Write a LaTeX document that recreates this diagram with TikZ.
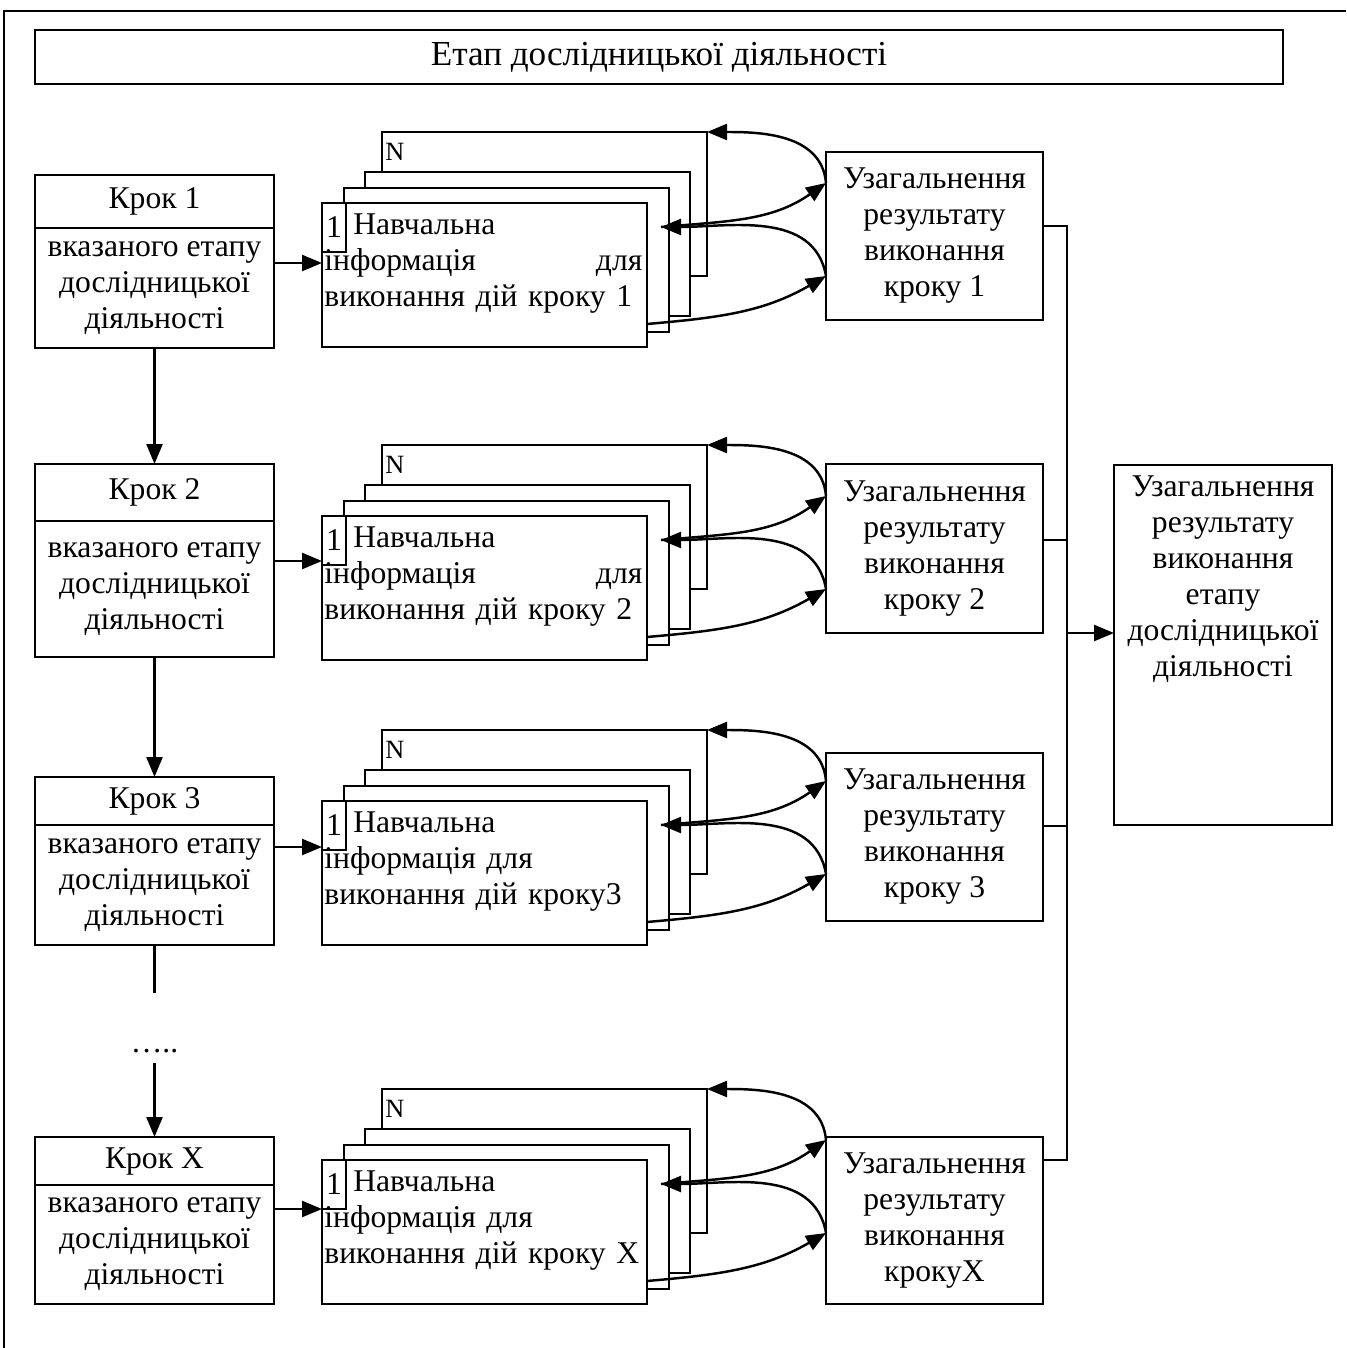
\documentclass[tikz,border=0pt]{standalone}
\usepackage{fontspec}
\setmainfont{Liberation Serif}
\usepackage{tikz}
\usetikzlibrary{arrows.meta,positioning,calc}

\begin{document}
\begin{tikzpicture}[every node/.style={font={\fontsize{18}{20.5}\selectfont}},
    box/.style={draw, line width=1.4pt, fill=white, outer sep=0pt, align=center, inner sep=2pt},
    stepbox/.style={box, minimum width=4.78cm},
    sumbox/.style={box, minimum width=4.34cm},
    page/.style={draw, line width=1.4pt, fill=white, outer sep=0pt, minimum width=6.5cm, minimum height=2.88cm},
    pagetext/.style={anchor=north west, align=left, text width=6.36cm, inner sep=0pt},
    numbox/.style={box, inner sep=0pt, anchor=north west, minimum width=0.48cm, minimum height=0.98cm},
    lastmark/.style={anchor=north west, inner sep=0pt, font={\fontsize{15}{17}\selectfont}},
    link/.style={line width=1.4pt},
    arr/.style={link, -{Triangle[length=4mm,width=3.2mm]}}]
  \useasboundingbox (0,0) rectangle (26.92,-26.96);

  % Frame
  \draw[link] (0.08,-26.96) -- (0.08,-0.22) -- (26.92,-0.22);

  % Title
  \node[box, minimum width=24.96cm, minimum height=1.08cm, font={\fontsize{20}{24}\selectfont}]
        (title) at (13.18,-1.14) {Етап дослідницької діяльності};

  % Steps
  \node[stepbox, minimum height=1.06cm] (s1h) at (3.09,-4.03) {Крок 1};
  \node[stepbox, minimum height=2.40cm, below=0pt of s1h] (s1b) {вказаного етапу\\дослідницької\\діяльності};
  \node[stepbox, minimum height=1.14cm] (s2h) at (3.09,-9.85) {Крок 2};
  \node[stepbox, minimum height=2.72cm, below=0pt of s2h] (s2b) {вказаного етапу\\дослідницької\\діяльності};
  \node[stepbox, minimum height=0.96cm] (s3h) at (3.09,-16.02) {Крок 3};
  \node[stepbox, minimum height=2.40cm, below=0pt of s3h] (s3b) {вказаного етапу\\дослідницької\\діяльності};
  \node[stepbox, minimum height=0.96cm] (sXh) at (3.09,-23.22) {Крок X};
  \node[stepbox, minimum height=2.38cm, below=0pt of sXh] (sXb) {вказаного етапу\\дослідницької\\діяльності};

  \coordinate (g1) at (3.09,-19.86);
  \coordinate (g2) at (3.09,-21.26);
  \draw[arr] (s1b) -- (s2h);
  \draw[arr] (s2b) -- (s3h);
  \draw[link] (s3b) -- (g1);
  \node[anchor=base] (dots) at (3.09,-21.04) {…..};
  \draw[arr] (g2) -- (sXh);

  % Stacks of learning material
  \node[page] (n1) at (10.89,-4.08) {};
  \node[page] (c1) at (10.55,-4.88) {};
  \node[page] (b1) at (10.13,-5.20) {};
  \node[page] (f1) at (9.69,-5.50) {};
  \node[lastmark] (nl1) at ($(n1.north west)+(0.06,-0.22)$) {N};
  \node[numbox] (k1) at (f1.north west) {1};
  \node[pagetext] (t1) at ($(f1.north west)+(0.04,-0.20)$)
        {\hspace*{0.58cm}Навчальна\\інформація \hspace{0pt plus 1filll}для\\виконання дій кроку 1};

  \node[page] (n2) at (10.89,-10.34) {};
  \node[page] (c2) at (10.55,-11.14) {};
  \node[page] (b2) at (10.13,-11.46) {};
  \node[page] (f2) at (9.69,-11.76) {};
  \node[lastmark] (nl2) at ($(n2.north west)+(0.06,-0.22)$) {N};
  \node[numbox] (k2) at (f2.north west) {1};
  \node[pagetext] (t2) at ($(f2.north west)+(0.04,-0.20)$)
        {\hspace*{0.58cm}Навчальна\\інформація \hspace{0pt plus 1filll}для\\виконання дій кроку 2};

  \node[page] (n3) at (10.89,-16.04) {};
  \node[page] (c3) at (10.55,-16.84) {};
  \node[page] (b3) at (10.13,-17.16) {};
  \node[page] (f3) at (9.69,-17.46) {};
  \node[lastmark] (nl3) at ($(n3.north west)+(0.06,-0.22)$) {N};
  \node[numbox] (k3) at (f3.north west) {1};
  \node[pagetext] (t3) at ($(f3.north west)+(0.04,-0.20)$)
        {\hspace*{0.58cm}Навчальна\\інформація для\\виконання дій кроку3};

  \node[page] (nX) at (10.89,-23.22) {};
  \node[page] (cX) at (10.55,-24.02) {};
  \node[page] (bX) at (10.13,-24.34) {};
  \node[page] (fX) at (9.69,-24.64) {};
  \node[lastmark] (nlX) at ($(nX.north west)+(0.06,-0.22)$) {N};
  \node[numbox] (kX) at (fX.north west) {1};
  \node[pagetext] (tX) at ($(fX.north west)+(0.04,-0.20)$)
        {\hspace*{0.58cm}Навчальна\\інформація для\\виконання дій кроку X};

  % Step arrows
  \coordinate (a1) at ($(f1.north west)+(0,-1.20)$);
  \coordinate (a2) at ($(f2.north west)+(0,-0.90)$);
  \coordinate (a3) at ($(f3.north west)+(0,-0.92)$);
  \coordinate (aX) at ($(fX.north west)+(0,-0.98)$);
  \draw[arr] (s1b.east |- a1) -- (a1);
  \draw[arr] (s2b.east |- a2) -- (a2);
  \draw[arr] (s3b.east |- a3) -- (a3);
  \draw[arr] (sXb.east |- aX) -- (aX);

  % Summaries of the steps
  \node[sumbox, minimum height=3.36cm] (u1) at (18.69,-4.72) {Узагальнення\\результату\\виконання\\кроку 1};
  \node[sumbox, minimum height=3.38cm] (u2) at (18.69,-10.97) {Узагальнення\\результату\\виконання\\кроку 2};
  \node[sumbox, minimum height=3.36cm] (u3) at (18.69,-16.74) {Узагальнення\\результату\\виконання\\кроку 3};
  \node[sumbox, minimum height=3.34cm] (uX) at (18.69,-24.41) {Узагальнення\\результату\\виконання\\крокуX};

  % Loops between a stack and its summary
  \coordinate (m1) at ($(f1.north east)+(0.28,-0.48)$);
  \coordinate (p1) at ($(u1.west |- f1.north)+(0,0.40)$);
  \coordinate (q1) at ($(u1.west |- f1.north)+(0,-1.46)$);
  \coordinate (e1) at ($(f1.north east)+(0,-2.42)$);
  \draw[arr] (p1) to[out=95,in=0] (n1.north east);
  \draw[arr] (m1) to[out=5,in=215] (p1);
  \draw[arr] (q1) to[out=100,in=0] (m1);
  \draw[arr] (e1) to[out=5,in=210] (q1);

  \coordinate (m2) at ($(f2.north east)+(0.28,-0.48)$);
  \coordinate (p2) at ($(u2.west |- f2.north)+(0,0.40)$);
  \coordinate (q2) at ($(u2.west |- f2.north)+(0,-1.46)$);
  \coordinate (e2) at ($(f2.north east)+(0,-2.42)$);
  \draw[arr] (p2) to[out=95,in=0] (n2.north east);
  \draw[arr] (m2) to[out=5,in=215] (p2);
  \draw[arr] (q2) to[out=100,in=0] (m2);
  \draw[arr] (e2) to[out=5,in=210] (q2);

  \coordinate (m3) at ($(f3.north east)+(0.28,-0.48)$);
  \coordinate (p3) at ($(u3.west |- f3.north)+(0,0.40)$);
  \coordinate (q3) at ($(u3.west |- f3.north)+(0,-1.46)$);
  \coordinate (e3) at ($(f3.north east)+(0,-2.42)$);
  \draw[arr] (p3) to[out=95,in=0] (n3.north east);
  \draw[arr] (m3) to[out=5,in=215] (p3);
  \draw[arr] (q3) to[out=100,in=0] (m3);
  \draw[arr] (e3) to[out=5,in=210] (q3);

  \coordinate (mX) at ($(fX.north east)+(0.28,-0.48)$);
  \coordinate (pX) at ($(uX.west |- fX.north)+(0,0.40)$);
  \coordinate (qX) at ($(uX.west |- fX.north)+(0,-1.46)$);
  \coordinate (eX) at ($(fX.north east)+(0,-2.42)$);
  \draw[arr] (pX) to[out=95,in=0] (nX.north east);
  \draw[arr] (mX) to[out=5,in=215] (pX);
  \draw[arr] (qX) to[out=100,in=0] (mX);
  \draw[arr] (eX) to[out=5,in=210] (qX);

  % Summary of the stage
  \node[sumbox, minimum width=4.36cm, minimum height=7.2cm] (res) at (24.46,-12.9) {};
  \node[anchor=north, align=center, inner sep=0pt] (rest) at ($(res.north)+(0,-0.20)$)
        {Узагальнення\\результату\\виконання\\етапу\\дослідницької\\діяльності};

  \coordinate (j1) at (21.34,-4.52);
  \coordinate (j2) at (21.34,-10.80);
  \coordinate (j3) at (21.34,-16.52);
  \coordinate (j4) at (21.34,-23.20);
  \coordinate (jr) at (21.34,-12.66);
  \draw[link] (u1.east |- j1) -- (j1) -- (j4) -- (uX.east |- j4);
  \draw[link] (u2.east |- j2) -- (j2);
  \draw[link] (u3.east |- j3) -- (j3);
  \draw[arr] (jr) -- (res.west |- jr);
\end{tikzpicture}
\end{document}
